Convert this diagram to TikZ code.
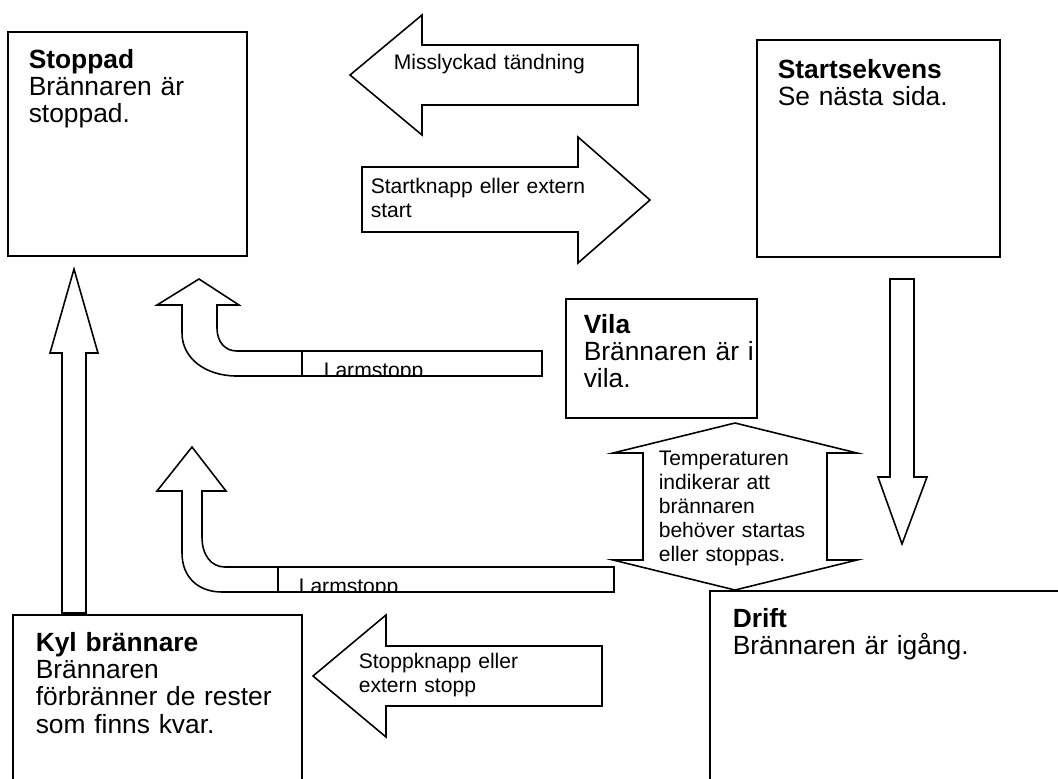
\documentclass[tikz,border=0pt]{standalone}
\usepackage{fontspec}
\setmainfont{Liberation Sans}
\usetikzlibrary{positioning}

\begin{document}
\begin{tikzpicture}[x=0.02cm,y=-0.02cm,line width=0.9pt,line join=miter,
 state text/.style={anchor=base west,inner sep=0pt,text width=6cm,
   font=\fontsize{15}{15.6}\selectfont},
 arrow text/.style={anchor=base west,inner sep=0pt,text width=5cm,
   font=\fontsize{12}{13.8}\selectfont},
 block/.style={draw,fill=white}]

 \useasboundingbox (0,0) rectangle (1058,778);
 \clip (0,0) rectangle (1058,778);

 % state boxes
 \foreach \xa/\ya/\xb/\yb in {8/32/247/256, 757/40/1000/257, 566/299/757/418,
   13/615/302/800, 710/591/1100/800}
  \draw (\xa,\ya) rectangle (\xb,\yb);

 \node[state text] (stoppad) at (28,68) {\textbf{Stoppad}\\Brännaren är\\stoppad.};
 \node[state text] (startsekvens) at (777,78) {\textbf{Startsekvens}\\Se nästa sida.};
 \node[state text] (vila) at (583,333) {\textbf{Vila}\\Brännaren är i\\vila.};
 \node[state text] (drift) at (732,627) {\textbf{Drift}\\Brännaren är igång.};
 \node[state text] (kyl) at (35,651) {\textbf{Kyl brännare}\\Brännaren\\förbränner de rester\\som finns kvar.};

 % block arrows
 \draw[block] (638,45) -- (422,45) -- (422,15) -- (350,75) -- (422,135)
   -- (422,105) -- (638,105) -- cycle;
 \draw[block] (362,167) -- (578,167) -- (578,137) -- (650,200) -- (578,263)
   -- (578,232) -- (362,232) -- cycle;
 \draw[block] (890,279) -- (914,279) -- (914,477) -- (927,477) -- (902,544)
   -- (878,477) -- (890,477) -- cycle;
 \draw[block] (62,613) -- (62,353) -- (50,353) -- (74,269) -- (98,353)
   -- (86,353) -- (86,613) -- cycle;
 \draw[block] (735,423) -- (857,453) -- (827,453) -- (827,560) -- (857,560)
   -- (735,590) -- (613,560) -- (643,560) -- (643,453) -- (613,453) -- cycle;
 \draw[block] (602,646) -- (386,646) -- (386,615) -- (313,676) -- (386,737)
   -- (386,706) -- (602,706) -- cycle;

 \node[arrow text] (misslyckad) at (393,69) {Misslyckad tändning};
 \node[arrow text] (startknapp) at (370,193) {Startknapp eller extern\\start};
 \node[arrow text] (temperatur) at (658,465)
   {Temperaturen\\indikerar att\\brännaren\\behöver startas\\eller stoppas.};
 \node[arrow text] (stoppknapp) at (358,668) {Stoppknapp eller\\extern stopp};

 % u-turn arrows
 \draw[block] (542,351) -- (237,351) .. controls (225,351) and (217,342) .. (217,328)
   -- (217,305) -- (239,305) -- (199,279) -- (157,305) -- (182,305) -- (182,333)
   .. controls (182,358) and (205,376) .. (237,376) -- (542,376) -- cycle;
 \draw[block] (614,567) -- (225,567) .. controls (211,567) and (202,555) .. (202,537)
   -- (202,491) -- (226,491) -- (192,447) -- (157,491) -- (182,491) -- (182,553)
   .. controls (182,577) and (198,592) .. (222,592) -- (614,592) -- cycle;

 \draw[block] (302,351) rectangle (542,376);
 \draw[block] (278,567) rectangle (614,592);
 \begin{scope}
  \clip (302,351) rectangle (542,376);
  \node[arrow text] (larm 1) at (323,377) {Larmstopp};
 \end{scope}
 \begin{scope}
  \clip (278,567) rectangle (614,592);
  \node[arrow text] (larm 2) at (298,593) {Larmstopp};
 \end{scope}
\end{tikzpicture}
\end{document}
